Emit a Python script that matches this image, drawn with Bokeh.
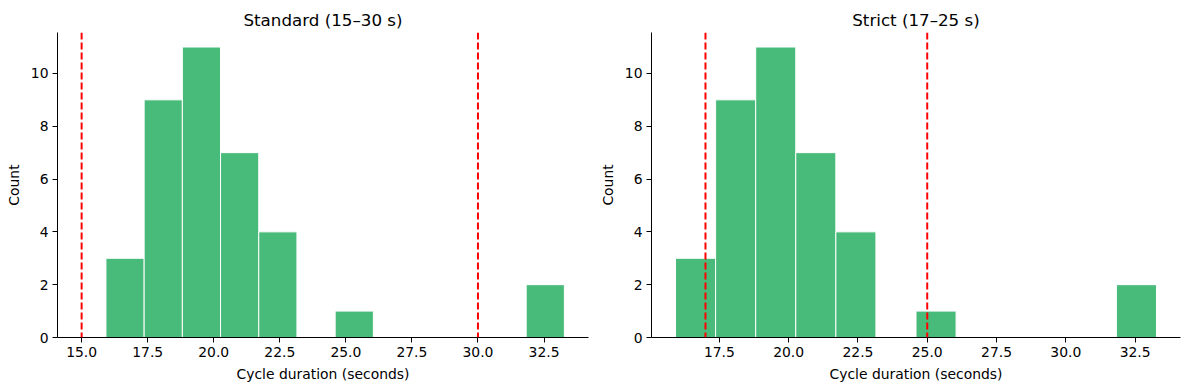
import numpy as np
from bokeh.plotting import figure
from bokeh.models import Range1d, FixedTicker, NumeralTickFormatter, Span, ColumnDataSource
from bokeh.layouts import row
from bokeh.embed import file_html
from bokeh.resources import INLINE

# ---- data ----
counts = [3, 9, 11, 7, 4, 0, 1, 0, 0, 0, 0, 2]
data_min = 15.92
data_max = 33.27
titles = ["Standard (15–30 s)", "Strict (17–25 s)"]
limits_standard = [15.0, 30.0]
limits_strict = [17.0, 25.0]
x_ticks = [15.0, 17.5, 20.0, 22.5, 25.0, 27.5, 30.0, 32.5]
y_ticks = [0, 2, 4, 6, 8, 10]
x_label = "Cycle duration (seconds)"
y_label = "Count"

edges = np.linspace(data_min, data_max, len(counts) + 1)

FONT = "DejaVu Sans"
BAR = "#48BA79"


def make_panel(title, limits, width, b_left, b_right):
    lo = min(data_min, min(limits))
    hi = max(data_max, max(limits))
    pad = 0.05 * (hi - lo)
    p = figure(width=width, height=390, output_backend="svg", toolbar_location=None,
               x_range=Range1d(lo - pad, hi + pad),
               y_range=Range1d(0, max(counts) * 1.05),
               min_border_left=b_left, min_border_right=b_right,
               min_border_top=32, min_border_bottom=53)
    p.title.text = title
    p.title.align = "center"
    p.title.text_font = FONT
    p.title.text_font_size = "16.7px"
    p.title.text_font_style = "normal"
    p.title.text_color = "black"
    p.title.standoff = 6
    p.outline_line_color = None
    p.grid.visible = False
    p.background_fill_color = "white"
    p.border_fill_color = "white"

    keep = [i for i, c in enumerate(counts) if c > 0]
    src = ColumnDataSource(dict(
        left=[edges[i] for i in keep],
        right=[edges[i + 1] for i in keep],
        top=[counts[i] for i in keep],
        bottom=[0] * len(keep),
    ))
    p.quad(left="left", right="right", top="top", bottom="bottom", source=src,
           fill_color=BAR, fill_alpha=1.0, line_color="white", line_width=1)

    for loc in limits:
        p.add_layout(Span(location=loc, dimension="height", line_color="red",
                          line_width=2, line_dash="7 3"))

    for ax in (p.xaxis[0], p.yaxis[0]):
        ax.major_label_text_font = FONT
        ax.major_label_text_font_size = "13.9px"
        ax.axis_label_text_font = FONT
        ax.axis_label_text_font_size = "13.9px"
        ax.axis_label_text_font_style = "normal"
        ax.minor_tick_line_color = None
        ax.major_tick_out = 5
        ax.major_tick_in = 0
        ax.major_label_standoff = 4
        ax.axis_label_standoff = 6
        ax.axis_line_color = "black"
        ax.major_tick_line_color = "black"
        ax.major_label_text_color = "black"
        ax.axis_label_text_color = "black"

    p.xaxis.axis_label = x_label
    p.yaxis.axis_label = y_label
    p.xaxis.ticker = FixedTicker(ticks=x_ticks)
    p.xaxis.formatter = NumeralTickFormatter(format="0.0")
    p.yaxis.ticker = FixedTicker(ticks=y_ticks)
    return p


p1 = make_panel(titles[0], limits_standard, 596, 57, 8)
p2 = make_panel(titles[1], limits_strict, 593, 53, 9)
layout = row(p1, p2, spacing=0)

open("out.html", "w").write(file_html(layout, INLINE))
